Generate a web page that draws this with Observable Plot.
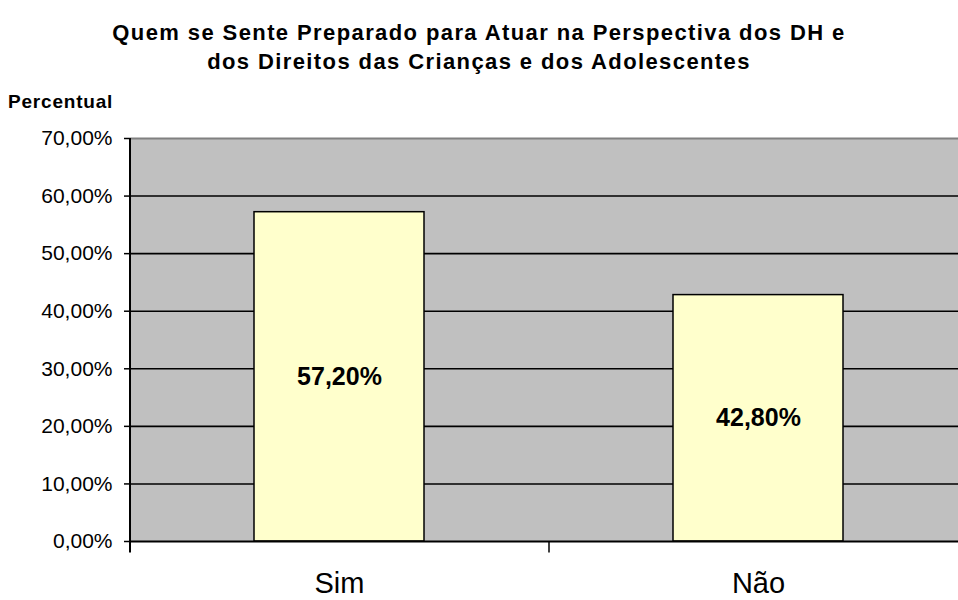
<!DOCTYPE html>
<html><head><meta charset="utf-8">
<script src="https://cdn.jsdelivr.net/npm/d3@7"></script>
<script src="https://cdn.jsdelivr.net/npm/@observablehq/plot@0.6"></script>
<style>
body{margin:0;background:#fff;font-family:"Liberation Sans",Arial,sans-serif;overflow:hidden;width:958px;height:600px;position:relative}
#title{position:absolute;left:0;top:18px;width:958px;text-align:center;font-weight:bold;font-size:22px;letter-spacing:1.4px;line-height:29px;color:#000}
#ylabel{position:absolute;left:8px;top:91px;font-weight:bold;font-size:19px;letter-spacing:0.8px;color:#000}
#chart{position:absolute;left:0;top:120px}
</style></head>
<body>
<div id="title">Quem se Sente Preparado para Atuar na Perspectiva dos DH e<br>dos Direitos das Crianças e dos Adolescentes</div>
<div id="ylabel">Percentual</div>
<div id="chart"></div>
<script>
const categories = ["Sim", "Não"];
const values = [0.572, 0.428];
const valueLabels = ["57,20%", "42,80%"];
const yTicks = [0, 0.1, 0.2, 0.3, 0.4, 0.5, 0.6, 0.7];
const yTickLabels = ["0,00%", "10,00%", "20,00%", "30,00%", "40,00%", "50,00%", "60,00%", "70,00%"];
const gridValues = [0.1, 0.2, 0.3, 0.4, 0.5, 0.6];

const data = categories.map((c, i) => ({cat: c, value: values[i], label: valueLabels[i]}));
const xRange = [130, 968];
const halfStep = (xRange[1] - xRange[0]) / categories.length / 2;

const chart = Plot.plot({
  width: 958,
  height: 480,
  marginLeft: 130,
  marginRight: 0,
  marginTop: 18,
  marginBottom: 59,
  style: {fontFamily: "'Liberation Sans', Arial, sans-serif", color: "#000", background: "transparent", overflow: "hidden"},
  x: {domain: categories, range: xRange, paddingInner: 0.594, paddingOuter: 0.297, axis: null},
  y: {domain: [0, 0.7], axis: null},
  marks: [
    Plot.frame({fill: "#c0c0c0", stroke: null}),
    Plot.ruleY(gridValues, {stroke: "#000", strokeWidth: 1.6}),
    Plot.ruleY([0.7], {stroke: "#808080", strokeWidth: 2}),
    Plot.barY(data, {x: "cat", y: "value", fill: "#ffffcc", stroke: "#000", strokeWidth: 1.5}),
    Plot.ruleY([0], {stroke: "#000", strokeWidth: 2}),
    Plot.ruleX([categories[0]], {dx: -halfStep, y1: -0.02, y2: 0.7, stroke: "#000", strokeWidth: 2}),
    Plot.ruleX(categories.slice(1), {dx: -halfStep, y1: -0.02, y2: 0, stroke: "#000", strokeWidth: 1.5}),
    Plot.text(data, {x: "cat", y: d => d.value / 2, text: "label", fontWeight: "bold", fontSize: 25, fill: "#000"}),
    Plot.axisY({ticks: yTicks, tickFormat: (d) => yTickLabels[yTicks.indexOf(d)], tickSize: 6, tickPadding: 12, fontSize: 21, stroke: "#000", strokeWidth: 1.5, label: null}),
    Plot.axisX({tickSize: 0, tickPadding: 31, fontSize: 29, label: null})
  ]
});
document.getElementById("chart").appendChild(chart);
</script>
</body></html>
